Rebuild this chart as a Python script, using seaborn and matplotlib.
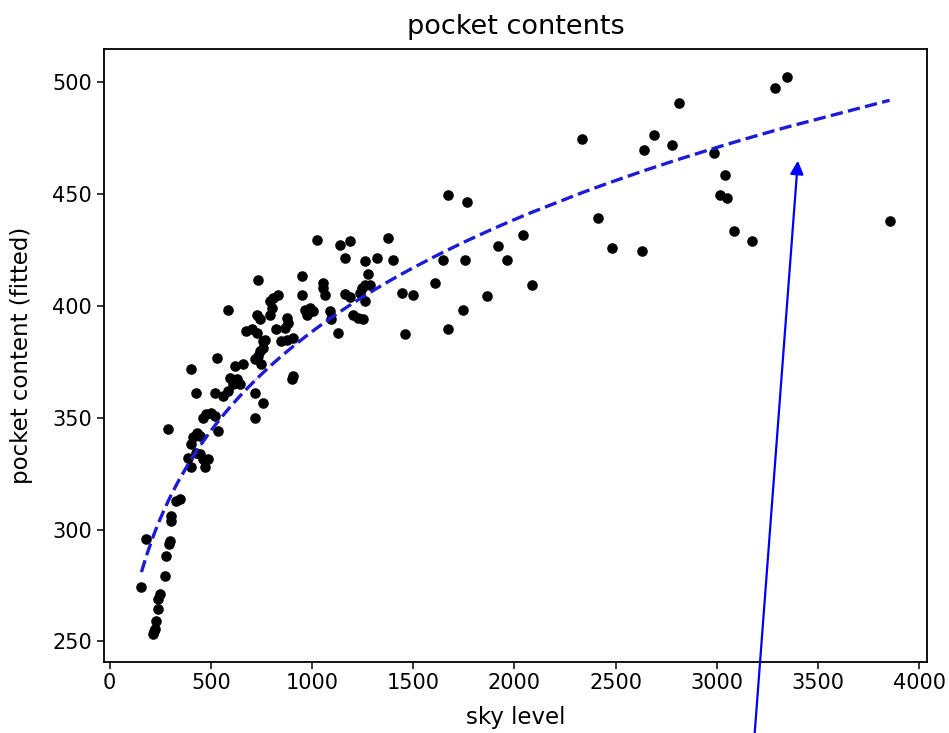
import numpy as np
import pandas as pd
import matplotlib
matplotlib.use("Agg")
import matplotlib.pyplot as plt
import seaborn as sns

# Observed sky level vs. pocket content
sky_level = [
    157, 182, 214, 219, 223, 231, 239, 239, 247, 272, 280, 297, 293, 305, 305, 330, 346, 288,
    404, 528, 429, 519, 560, 585, 610, 627, 594, 643, 659, 618, 717, 758, 717, 461, 478, 503,
    519, 536, 412, 430, 445, 404, 429, 445, 387, 404, 470, 486, 461, 585, 733,
    676, 701, 726, 726, 742, 758, 767, 717, 733, 742, 758, 750, 791, 808, 832, 800, 791, 824,
    874, 882, 849, 874, 907, 899, 907, 866,
    948, 948, 964, 989, 1005, 973, 1022, 1055, 1055, 1063, 1088, 1096, 1129, 1165, 1138, 1187,
    1162, 1261, 1319, 1376, 1401, 1277, 1261, 1245, 1236, 1187, 1203, 1228, 1250, 1261, 1286,
    1443, 1500, 1459,
    1607, 1648, 1756, 1747, 1673, 1673, 1764, 1863, 1921, 1962, 2044, 2085, 2333, 2415, 2481,
    2630, 2638, 2687, 2778, 2811, 2984, 3042, 3017, 3050, 3083, 3174, 3289, 3347, 3853,
]
pocket_content = [
    274.2, 295.8, 253.4, 254.5, 255.6, 259.3, 264.6, 269.0, 271.3, 279.4, 288.4, 295.0, 293.6,
    306.2, 304.0, 312.9, 313.7, 344.9,
    371.7, 376.8, 361.2, 361.2, 359.7, 362.0, 365.0, 367.2, 367.9, 365.0, 373.9, 373.1, 361.2,
    356.8, 350.1, 350.1, 351.6, 352.3, 350.8, 344.1, 341.5, 343.4, 341.9, 338.2, 334.4, 333.7,
    332.2, 327.8, 327.8, 331.5, 331.5, 398.4, 411.8,
    388.8, 389.5, 388.0, 396.2, 394.0, 384.3, 385.0, 376.1, 377.6, 379.8, 381.3, 373.9, 402.1,
    403.6, 405.1, 399.2, 396.2, 389.5, 394.7, 392.5, 384.3, 385.0, 385.8, 367.2, 368.7, 390.2,
    413.3, 405.1, 398.4, 399.2, 397.7, 396.2, 429.7, 410.3, 408.1, 405.1, 397.7, 394.0, 388.0,
    405.5, 427.4, 428.9, 421.5, 420.0, 421.5, 430.4, 420.7, 414.1, 409.6, 408.1, 405.8, 404.2,
    396.2, 394.7, 394.0, 402.1, 409.6,
    405.8, 405.1, 387.3,
    410.3, 420.8, 420.8, 398.4, 389.5, 449.8, 446.5, 404.4, 426.7, 420.8, 431.9, 409.6, 474.5,
    439.3, 425.9, 424.5, 469.8, 476.5, 472.0, 490.6, 468.3, 458.7, 449.8, 448.2, 433.4, 428.9,
    497.3, 502.5, 437.8,
]

# Fitted power-law model: pocket = fit_scale * sky ** fit_exponent
fit_scale = 116.0
fit_exponent = 0.175

title = "pocket contents"
x_label = "sky level"
y_label = "pocket content (fitted)"

df = pd.DataFrame({"sky": sky_level, "pocket": pocket_content})
fit = df.sort_values("sky").copy()
fit["fitted"] = fit_scale * fit["sky"] ** fit_exponent

fig = plt.figure(figsize=(9.49, 7.33), dpi=100)
ax = fig.add_axes([0.1096, 0.0973, 0.8672, 0.8359])

sns.scatterplot(data=df, x="sky", y="pocket", color="black", s=58, linewidth=0,
                ax=ax, zorder=2)
sns.lineplot(data=fit, x="sky", y="fitted", color="#1c1cd8", linestyle="--",
             linewidth=2.4, sort=False, ax=ax, zorder=3)

ax.set_yticks([250, 300, 350, 400, 450, 500])
ax.set_xticks([0, 500, 1000, 1500, 2000, 2500, 3000, 3500, 4000])
ax.tick_params(labelsize=15, length=5, width=1.1)
for sp in ax.spines.values():
    sp.set_linewidth(1.3)
ax.set_title(title, fontsize=19.5, pad=11)
ax.set_xlabel(x_label, fontsize=16.5, labelpad=9)
ax.set_ylabel(y_label, fontsize=16.5, labelpad=14)

# Arrow pointing up at the upper part of the fitted curve
ax.annotate("", xy=(3400, 465), xytext=(3175, 195), annotation_clip=False,
            arrowprops=dict(arrowstyle="-|>", color="blue", lw=1.6,
                            mutation_scale=20, shrinkA=0, shrinkB=0))

fig.savefig("out.png", dpi=100)
